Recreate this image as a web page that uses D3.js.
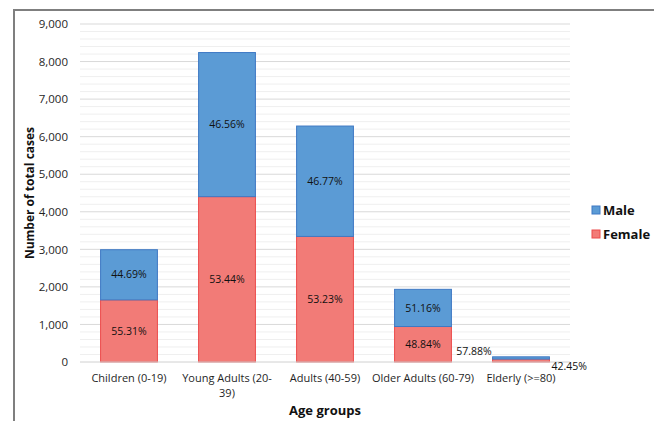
<!DOCTYPE html>
<html>
<head>
<meta charset="utf-8">
<script src="https://cdn.jsdelivr.net/npm/d3@7"></script>
<style>
  body { margin: 0; background: #fff; }
  svg { font-family: "Open Sans", "Noto Sans", sans-serif; }
</style>
</head>
<body>
<div id="chart"></div>
<script>
var categories = ["Children (0-19)", "Young Adults (20-39)", "Adults (40-59)", "Older Adults (60-79)", "Elderly (>=80)"]
var female = [1654, 4403, 3344, 945, 78]
var male = [1336, 3837, 2939, 990, 60]
var femaleLabels = ["55.31%", "53.44%", "53.23%", "48.84%", "57.88%"]
var maleLabels = ["44.69%", "46.56%", "46.77%", "51.16%", "42.45%"]
var yTicks = [0, 1000, 2000, 3000, 4000, 5000, 6000, 7000, 8000, 9000]

var W = 654, H = 421
var margin = {left: 80, top: 24, right: 84, bottom: 59}
var width = W - margin.left - margin.right
var height = H - margin.top - margin.bottom

var svg = d3.select("#chart").append("svg")
    .attr("width", W)
    .attr("height", H)

// outer frame (runs off the right and bottom)
svg.append("path")
    .attr("d", "M14," + H + "V10H" + W)
    .attr("fill", "none")
    .attr("stroke", "#7f7f7f")
    .attr("stroke-width", 2)

var g = svg.append("g")
    .attr("transform", "translate(" + margin.left + "," + margin.top + ")")

var x = d3.scaleBand()
    .domain(categories)
    .range([0, width])
    .paddingInner(0.42)
    .paddingOuter(0.21)

var y = d3.scaleLinear()
    .domain([0, 9000])
    .range([height, 0])

// minor grid
g.selectAll(".minor")
    .data(d3.range(0, 9000, 200).filter(function(d) { return d % 1000 != 0 }))
    .enter().append("line")
    .attr("x1", 0).attr("x2", width)
    .attr("y1", function(d) { return y(d) }).attr("y2", function(d) { return y(d) })
    .attr("stroke", "#efefef")
    .attr("stroke-width", 1)

// major grid
g.selectAll(".major")
    .data(yTicks.slice(1))
    .enter().append("line")
    .attr("x1", 0).attr("x2", width)
    .attr("y1", function(d) { return y(d) }).attr("y2", function(d) { return y(d) })
    .attr("stroke", "#d9d9d9")
    .attr("stroke-width", 1)

var yAxis = g.append("g")
    .call(d3.axisLeft(y).tickValues(yTicks).tickFormat(d3.format(",")).tickSize(0).tickPadding(12))
yAxis.select(".domain").remove()
yAxis.selectAll("text").attr("font-size", 11.5).attr("fill", "#1f1f1f").attr("font-family", "Open Sans")

var stacks = categories.map(function(c, i) {
    return {cat: c, f: female[i], m: male[i], fl: femaleLabels[i], ml: maleLabels[i]}
})

var bar = g.selectAll(".bar")
    .data(stacks)
    .enter().append("g")
    .attr("class", "bar")

bar.append("rect")
    .attr("x", function(d) { return x(d.cat) })
    .attr("width", x.bandwidth())
    .attr("y", function(d) { return y(d.f) })
    .attr("height", function(d) { return height - y(d.f) })
    .attr("fill", "#f27b77")
    .attr("stroke", "#ec4b4b")
    .attr("stroke-width", 1)

bar.append("rect")
    .attr("x", function(d) { return x(d.cat) })
    .attr("width", x.bandwidth())
    .attr("y", function(d) { return y(d.f + d.m) })
    .attr("height", function(d) { return y(d.f) - y(d.f + d.m) })
    .attr("fill", "#5b9bd5")
    .attr("stroke", "#3f79c4")
    .attr("stroke-width", 1)

// x axis line
g.append("line")
    .attr("x1", 0).attr("x2", width)
    .attr("y1", height).attr("y2", height)
    .attr("stroke", "#d0d0d0")

// segment labels
var big = stacks.slice(0, 4)
g.selectAll(".fl")
    .data(big)
    .enter().append("text")
    .attr("x", function(d) { return x(d.cat) + x.bandwidth() / 2 })
    .attr("y", function(d) { return (y(d.f) + height) / 2 })
    .attr("dy", "0.35em")
    .attr("text-anchor", "middle")
    .attr("font-size", 10.5)
    .attr("fill", "#111")
    .text(function(d) { return d.fl })

g.selectAll(".ml")
    .data(big)
    .enter().append("text")
    .attr("x", function(d) { return x(d.cat) + x.bandwidth() / 2 })
    .attr("y", function(d) { return (y(d.f) + y(d.f + d.m)) / 2 })
    .attr("dy", "0.35em")
    .attr("text-anchor", "middle")
    .attr("font-size", 10.5)
    .attr("fill", "#111")
    .text(function(d) { return d.ml })

// elderly labels sit outside the thin bar
var last = stacks[4]
g.append("text")
    .attr("x", x(last.cat) - 1)
    .attr("y", y(last.f + last.m) - 2)
    .attr("text-anchor", "end")
    .attr("font-size", 10.5)
    .attr("fill", "#111")
    .text(last.fl)
g.append("text")
    .attr("x", x(last.cat) + x.bandwidth() + 2)
    .attr("y", height + 8)
    .attr("font-size", 10.5)
    .attr("fill", "#111")
    .text(last.ml)

// x tick labels, wrapped
g.selectAll(".xl")
    .data(categories)
    .enter().append("text")
    .attr("x", function(d) { return x(d) + x.bandwidth() / 2 })
    .attr("y", height + 20)
    .attr("text-anchor", "middle")
    .attr("font-size", 11)
    .attr("fill", "#1f1f1f")
    .each(function(d) {
        var lines = d == "Young Adults (20-39)" ? ["Young Adults (20-", "39)"] : [d]
        var t = d3.select(this)
        lines.forEach(function(l, i) {
            t.append("tspan")
                .attr("x", x(d) + x.bandwidth() / 2)
                .attr("dy", i == 0 ? 0 : 15)
                .text(l)
        })
    })

// axis titles
g.append("text")
    .attr("x", width / 2)
    .attr("y", height + 53)
    .attr("text-anchor", "middle")
    .attr("font-size", 13)
    .attr("font-weight", 700)
    .attr("fill", "#111")
    .text("Age groups")

g.append("text")
    .attr("transform", "translate(" + (-46) + "," + (height / 2) + ") rotate(-90)")
    .attr("text-anchor", "middle")
    .attr("font-size", 12)
    .attr("font-weight", 700)
    .attr("fill", "#111")
    .text("Number of total cases")

// legend
var legend = svg.append("g")
    .attr("transform", "translate(592,203)")
var items = [{name: "Male", fill: "#5b9bd5", stroke: "#3f79c4"}, {name: "Female", fill: "#f27b77", stroke: "#ec4b4b"}]
var li = legend.selectAll("g")
    .data(items)
    .enter().append("g")
    .attr("transform", function(d, i) { return "translate(0," + (i * 24) + ")" })
li.append("rect")
    .attr("width", 8).attr("height", 8)
    .attr("y", 3)
    .attr("fill", function(d) { return d.fill })
    .attr("stroke", function(d) { return d.stroke })
li.append("text")
    .attr("x", 11)
    .attr("y", 7)
    .attr("dy", "0.35em")
    .attr("font-size", 13)
    .attr("font-weight", 700)
    .attr("fill", "#111")
    .text(function(d) { return d.name })
</script>
</body>
</html>
